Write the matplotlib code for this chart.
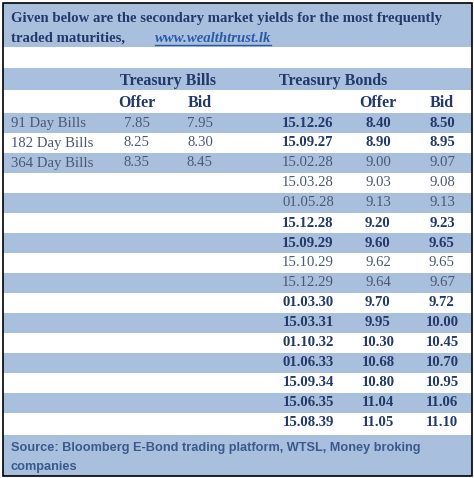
import matplotlib.pyplot as plt
from matplotlib.patches import Rectangle

bill_names = ["91 Day Bills", "182 Day Bills", "364 Day Bills"]
bill_offer = ["7.85", "8.25", "8.35"]
bill_bid = ["7.95", "8.30", "8.45"]

bond_dates = ["15.12.26", "15.09.27", "15.02.28", "15.03.28", "01.05.28", "15.12.28",
              "15.09.29", "15.10.29", "15.12.29", "01.03.30", "15.03.31", "01.10.32",
              "01.06.33", "15.09.34", "15.06.35", "15.08.39"]
bond_offer = ["8.40", "8.90", "9.00", "9.03", "9.13", "9.20", "9.60", "9.62", "9.64",
              "9.70", "9.95", "10.30", "10.68", "10.80", "11.04", "11.05"]
bond_bid = ["8.50", "8.95", "9.07", "9.08", "9.13", "9.23", "9.65", "9.65", "9.67",
            "9.72", "10.00", "10.45", "10.70", "10.95", "11.06", "11.10"]
bond_bold = [True, True, False, False, False, True, True, False, False,
             True, True, True, True, True, True, True]

BLUE = "#a8c0de"
NAVY = "#22396a"
GREY = "#4b5872"
W, H = 474, 478

fig = plt.figure(figsize=(W / 100, H / 100), dpi=100)
ax = fig.add_axes([0, 0, 1, 1])
ax.set_xlim(0, W)
ax.set_ylim(H, 0)
ax.axis("off")

def band(y0, y1):
    ax.add_patch(Rectangle((3, y0), 469, y1 - y0, color=BLUE, lw=0))

serif = ["Liberation Serif", "DejaVu Serif"]

# header
band(3, 47)
ax.text(11, 18, "Given below are the secondary market yields for the most frequently",
        fontsize=10.6, family=serif, weight="bold", color=NAVY, va="center")
ax.text(11, 38, "traded maturities,", fontsize=10.6, family=serif, weight="bold",
        color=NAVY, va="center")
ax.text(155, 38, "www.wealthtrust.lk", fontsize=10.6, family=serif, weight="bold",
        style="italic", color="#2a5aa8", va="center")
ax.plot([155, 271], [45, 45], color="#2a5aa8", lw=1)

# column headers
band(68, 90)
ax.text(168, 81, "Treasury Bills", fontsize=11.5, family=serif, weight="bold",
        color=NAVY, ha="center", va="center")
ax.text(333, 81, "Treasury Bonds", fontsize=11.5, family=serif, weight="bold",
        color=NAVY, ha="center", va="center")
for x, s in [(137, "Offer"), (200, "Bid"), (378, "Offer"), (442, "Bid")]:
    ax.text(x, 103, s, fontsize=11.5, family=serif, weight="bold", color=NAVY,
            ha="center", va="center")

# data rows
row_h = 20
top = 113
for i in range(len(bond_dates)):
    if i % 2 == 0:
        band(top + i * row_h, top + (i + 1) * row_h)
for i, (n, o, b) in enumerate(zip(bill_names, bill_offer, bill_bid)):
    y = top + i * row_h + row_h / 2
    ax.text(11, y, n, fontsize=10.6, family=serif, color=GREY, va="center")
    ax.text(137, y, o, fontsize=10.6, family=serif, color=GREY, ha="center", va="center")
    ax.text(200, y, b, fontsize=10.6, family=serif, color=GREY, ha="center", va="center")
for i, (d, o, b, bd) in enumerate(zip(bond_dates, bond_offer, bond_bid, bond_bold)):
    y = top + i * row_h + row_h / 2
    kw = dict(fontsize=10.6, family=serif, ha="center", va="center",
              weight="bold" if bd else "normal", color=NAVY if bd else GREY)
    ax.text(308, y, d, **kw)
    ax.text(378, y, o, **kw)
    ax.text(442, y, b, **kw)

# footer
band(top + len(bond_dates) * row_h + 2, 476)
sans = ["Liberation Sans", "DejaVu Sans"]
ax.text(11, 448, "Source: Bloomberg E-Bond trading platform, WTSL, Money broking",
        fontsize=9.2, family=sans, weight="bold", color="#3a5a8c", va="center")
ax.text(11, 467, "companies", fontsize=9.2, family=sans, weight="bold",
        color="#3a5a8c", va="center")

ax.add_patch(Rectangle((3, 3), 469, 473, fill=False, ec="black", lw=1.2))

fig.savefig("out.png", dpi=100)
